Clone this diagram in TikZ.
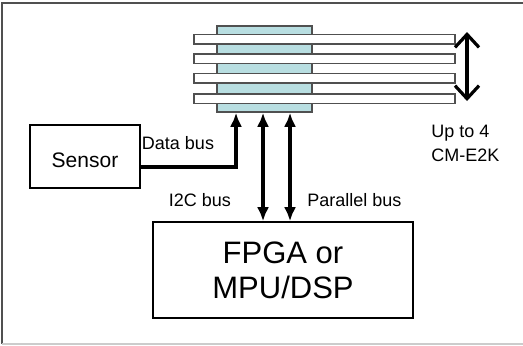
\documentclass[tikz,border=0pt]{standalone}
\usepackage{fontspec}
\setmainfont{Liberation Sans}
\usetikzlibrary{arrows.meta, positioning}
\definecolor{chipteal}{RGB}{184,222,225}
\definecolor{edgegray}{RGB}{80,80,80}

\begin{document}
\begin{tikzpicture}[x=0.5pt, y=-0.5pt,
  board/.style={draw=edgegray, line width=0.75pt, fill=white, minimum width=130.5pt, minimum height=4.75pt, inner sep=0pt},
  chip/.style={draw=edgegray, line width=0.75pt, fill=chipteal, minimum width=47.5pt, minimum height=43pt, inner sep=0pt},
  box/.style={draw, inner sep=0pt},
  bus/.style={line width=1.6pt},
  bustip/.tip={Latex[length=7pt,width=6pt]},
  lbl/.style={font=\fontsize{9}{12}\selectfont, inner sep=0pt}]
\useasboundingbox (0,0) rectangle (523,345);
% frame
\draw[edgegray, line width=1pt] (1.5,344) -- (1.5,3) -- (523,3);
\draw[gray!40, line width=1pt] (1.5,343.5) -- (523,343.5);

% stacked modules
\node[chip] (chip) at (264.5,69) {};
\foreach \y [count=\i] in {39, 58.5, 78, 98.5}
  \node[board] (board\i) at (324.5,\y) {};
\coordinate (stacktop) at (467,32);
\coordinate (stackbot) at (467,101);
\draw[bus, {Straight Barb[length=6.5pt,width=12pt]}-{Straight Barb[length=6.5pt,width=12pt]}] (stacktop) -- (stackbot);
\node[lbl, align=left, anchor=north west] (upto) at (431,125) {Up to 4\\CM-E2K};

% sensor and processor
\node[box, line width=1pt, minimum width=55pt, minimum height=31.5pt, text height=11pt, text depth=0pt, font=\fontsize{10.5}{12}\selectfont] (sensor) at (85,156.5) {Sensor};
\node[box, line width=0.8pt, minimum width=130pt, minimum height=48pt, align=center, font=\fontsize{15.5}{17.5}\selectfont] (fpga) at (283,270) {FPGA or\\MPU/DSP};

% buses
\draw[bus, -bustip] ([yshift=-5.25pt]sensor.east) -| ([xshift=-14.25pt]chip.south);
\draw[bus, bustip-bustip] ([xshift=-0.75pt]chip.south) -- ([xshift=-0.75pt]chip.south |- fpga.north);
\draw[bus, bustip-bustip] ([xshift=12.75pt]chip.south) -- ([xshift=12.75pt]chip.south |- fpga.north);
\node[lbl] (databus) at (178,143) {Data bus};
\node[lbl] (i2cbus) at (200,200) {I2C bus};
\node[lbl] (parbus) at (354.5,200) {Parallel bus};
\end{tikzpicture}
\end{document}
